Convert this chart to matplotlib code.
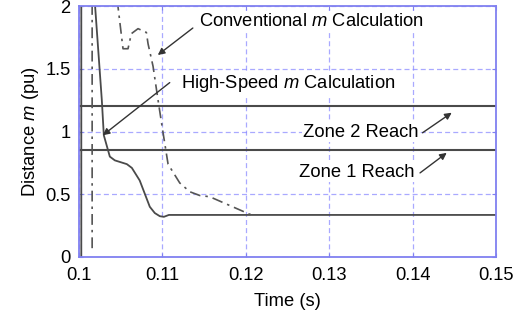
import numpy as np
import matplotlib
matplotlib.use("Agg")
import matplotlib.pyplot as plt

plt.rcParams['font.family'] = ['Liberation Sans', 'DejaVu Sans']
plt.rcParams['mathtext.fontset'] = 'custom'
plt.rcParams['mathtext.rm'] = 'Liberation Sans'
plt.rcParams['mathtext.it'] = 'Liberation Sans:italic'

# High-speed m calculation (solid)
hs_t = [0.1003, 0.1003, np.nan, 0.1019, 0.10276, 0.1030, 0.10372, 0.10432, 0.10576,
        0.10636, 0.1073, 0.10851, 0.10911, 0.10971, 0.1102, 0.1108, 0.150]
hs_m = [-0.1, 2.5, np.nan, 2.05, 1.25, 0.97, 0.80, 0.77, 0.74,
        0.71, 0.61, 0.40, 0.35, 0.325, 0.32, 0.335, 0.335]

# Conventional m calculation (dash-dot)
cv_t = [0.1016, 0.1016, np.nan, 0.1046, 0.1053, 0.1059, 0.1063, 0.1071, 0.1081,
        0.1083, 0.1089, 0.1095, 0.1101, 0.1107, 0.1121, 0.1133, 0.1145,
        0.1157, 0.1181, 0.1205, 0.1210]
cv_m = [0.07, 2.5, np.nan, 2.05, 1.66, 1.66, 1.78, 1.82, 1.79,
        1.70, 1.52, 1.25, 0.99, 0.74, 0.59, 0.52, 0.49,
        0.48, 0.41, 0.34, 0.335]

zone1 = 0.85
zone2 = 1.20

xticks = [0.1, 0.11, 0.12, 0.13, 0.14, 0.15]
xticklabels = ['0.1', '0.11', '0.12', '0.13', '0.14', '0.15']
yticks = [0, 0.5, 1, 1.5, 2]
yticklabels = ['0', '0.5', '1', '1.5', '2']

fs = 13.2

fig = plt.figure(figsize=(5.15, 3.2), dpi=100)
ax = fig.add_axes([0.153, 0.197, 0.810, 0.784])

blue = '#8080f0'
ax.set_xlim(0.1, 0.15)
ax.set_ylim(0, 2)
ax.set_xticks(xticks)
ax.set_xticklabels(xticklabels)
ax.set_yticks(yticks)
ax.set_yticklabels(yticklabels)
ax.grid(True, color='#8c8cff', lw=0.9, alpha=0.75, linestyle=(0, (4, 2.5)))
ax.set_axisbelow(True)
for s in ax.spines.values():
    s.set_color(blue)
    s.set_linewidth(1.3)
ax.tick_params(direction='in', color=blue, length=3, top=True, right=True,
               labelsize=fs)
ax.tick_params(axis='x', pad=7.5)
ax.tick_params(axis='y', pad=6)

ax.axhline(zone2, color='#4a4a4a', lw=1.5)
ax.axhline(zone1, color='#4a4a4a', lw=1.5)

ax.plot(hs_t, hs_m, color='#4a4a4a', lw=1.3)
ax.plot(cv_t, cv_m, color='#555555', lw=1.2, dashes=(6.5, 3, 1.5, 3))

ax.set_xlabel('Time (s)', fontsize=fs, labelpad=6)
ax.set_ylabel('Distance $m$ (pu)', fontsize=fs, labelpad=3)

ap = dict(arrowstyle='-|>', color='#333333', lw=1.0, mutation_scale=10,
          shrinkA=0, shrinkB=0)
bb = dict(facecolor='white', edgecolor='none', pad=1.0)
ax.text(0.1144, 1.88, 'Conventional $m$ Calculation', fontsize=fs,
        ha='left', va='center', bbox=bb)
ax.annotate('', xy=(0.10947, 1.61), xytext=(0.11367, 1.825), arrowprops=ap)
ax.text(0.1122, 1.38, 'High-Speed $m$ Calculation', fontsize=fs,
        ha='left', va='center', bbox=bb)
ax.annotate('', xy=(0.10288, 0.97), xytext=(0.1109, 1.39), arrowprops=ap)
ax.text(0.1338, 0.996, 'Zone 2 Reach', fontsize=fs, ha='center', va='center', bbox=bb)
ax.annotate('', xy=(0.1447, 1.15), xytext=(0.1412, 0.99), arrowprops=ap)
ax.text(0.1333, 0.677, 'Zone 1 Reach', fontsize=fs, ha='center', va='center', bbox=bb)
ax.annotate('', xy=(0.1441, 0.83), xytext=(0.1409, 0.67), arrowprops=ap)

fig.savefig('out.png', dpi=100)
